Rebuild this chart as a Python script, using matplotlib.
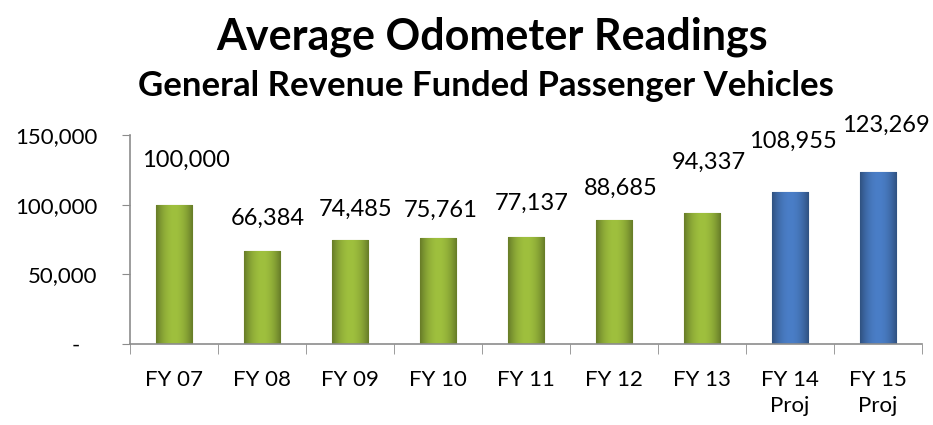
import matplotlib.pyplot as plt
import numpy as np

plt.rcParams["font.family"] = ["Lato", "DejaVu Sans"]

categories = ["FY 07", "FY 08", "FY 09", "FY 10", "FY 11", "FY 12", "FY 13", "FY 14\nProj", "FY 15\nProj"]
values = [100000, 66384, 74485, 75761, 77137, 88685, 94337, 108955, 123269]
projected = [False, False, False, False, False, False, False, True, True]

# label nudges (points) - the original labels were placed by hand
label_dx = [9, 4, 4, 2, 4, 5, 5, 2, 6]
label_dy = [32, 24, 22, 20, 24, 23, 36, 37, 34]

green = "#9fc03e"
blue = "#4a7ec7"
colors = [blue if p else green for p in projected]
edges = ["#2f5c9c" if p else "#6f8c22" for p in projected]

fig = plt.figure(figsize=(9.33, 4.25), dpi=100)
ax = fig.add_axes([0.139, 0.191, 0.849, 0.491])

x = np.arange(len(categories))
bars = ax.bar(x, values, width=0.41, color=colors, edgecolor=edges, linewidth=0.8, zorder=2)

# simple bevel shading on each bar
for b, c in zip(bars, colors):
    grad = np.linspace(-1, 1, 50)
    shade = 1 - 0.35 * np.abs(grad) ** 2
    img = np.ones((1, 50, 4))
    rgb = np.array(plt.matplotlib.colors.to_rgb(c))
    img[0, :, :3] = np.clip(rgb[None, :] * shade[:, None], 0, 1)
    im = ax.imshow(img, extent=[b.get_x(), b.get_x() + b.get_width(), 0, b.get_height()],
                   aspect="auto", zorder=2.5, interpolation="bicubic")
    im.set_clip_path(b)

for xi, v, dx, dy in zip(x, values, label_dx, label_dy):
    ax.annotate(f"{v:,}", (xi, v), xytext=(dx, dy), textcoords="offset points",
                ha="center", va="center", fontsize=17)

ax.set_xlim(-0.5, len(categories) - 0.5)
ax.set_ylim(0, 150000)
ax.set_yticks([0, 50000, 100000, 150000])
ax.set_yticklabels(["-   ", "50,000", "100,000", "150,000"], fontsize=16)
ax.set_xticks(x)
ax.set_xticklabels(categories, fontsize=16, linespacing=1.35, va="top")
ax.tick_params(axis="x", length=0, pad=19)
ax.set_xticks(np.arange(-0.5, len(categories)), minor=True)
ax.tick_params(axis="x", which="minor", length=7, color="#8c8c8c")
ax.tick_params(axis="y", length=6, color="#8c8c8c", pad=17)

for s in ["top", "right"]:
    ax.spines[s].set_visible(False)
for s in ["left", "bottom"]:
    ax.spines[s].set_color("#8c8c8c")
    ax.spines[s].set_linewidth(1.2)

fig.text(0.527, 0.913, "Average Odometer Readings", ha="center", va="center",
         fontsize=31, fontweight="bold")
fig.text(0.521, 0.798, "General Revenue Funded Passenger Vehicles", ha="center", va="center",
         fontsize=25, fontweight="bold")

fig.savefig("out.png", dpi=100)
